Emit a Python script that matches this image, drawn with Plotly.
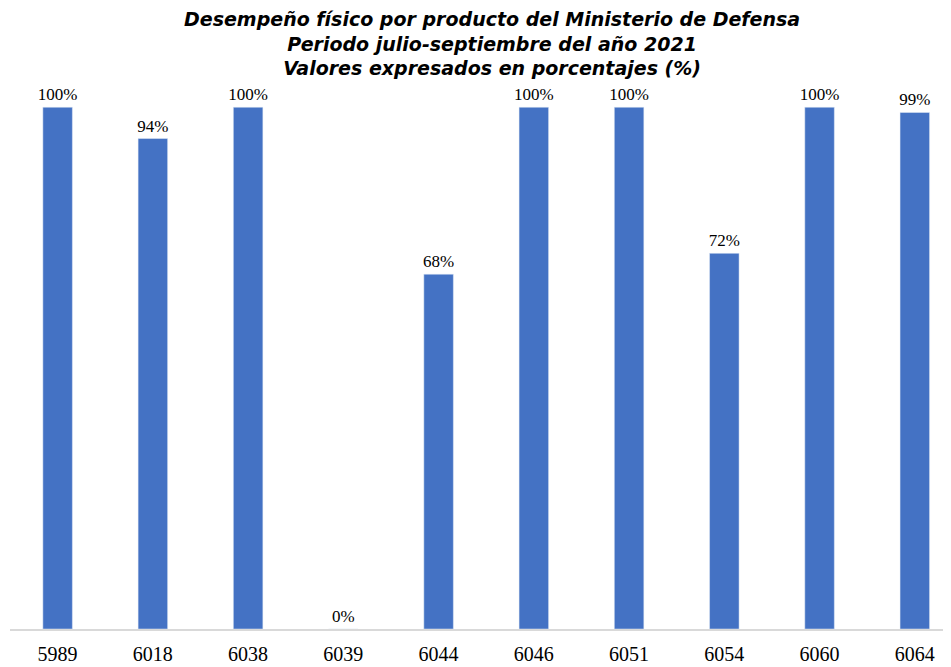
import plotly.graph_objects as go

categories = ["5989", "6018", "6038", "6039", "6044", "6046", "6051", "6054", "6060", "6064"]
values = [100, 94, 100, 0, 68, 100, 100, 72, 100, 99]
labels = [f"{v}%" for v in values]
title_lines = [
    "Desempeño físico por producto del Ministerio de Defensa",
    "Periodo julio-septiembre del año 2021",
    "Valores expresados en porcentajes (%)",
]

# page body has an 8px default margin, so the figure is sized 8px smaller
W, H = 943, 659
L, R, T, B = 2, 0, 82, 38

fig = go.Figure()
fig.add_trace(go.Bar(
    x=categories, y=values, text=labels, textposition="outside",
    constraintext="none",
    textfont=dict(family="Liberation Serif", size=17, color="#000000"),
    marker=dict(color="#4472C4"), width=0.31, cliponaxis=False,
))

plot_h = H - T - B
fig.add_annotation(
    text="<br>".join(title_lines),
    xref="paper", yref="paper", x=0.512, y=(H - B + 2) / plot_h,
    xanchor="center", yanchor="top", showarrow=False, align="center",
    font=dict(family="DejaVu Sans", size=19, color="#000000", weight="bold", style="italic"),
)

fig.update_layout(
    width=W, height=H,
    paper_bgcolor="white", plot_bgcolor="white",
    margin=dict(l=L, r=R, t=T, b=B),
    showlegend=False,
    xaxis=dict(
        type="category", range=[-0.5, 9.38], showline=True, linecolor="#D9D9D9", linewidth=2,
        ticks="", tickfont=dict(family="Liberation Serif", size=20, color="#000000"),
        ticklabelstandoff=6, automargin=False, showgrid=False,
    ),
    yaxis=dict(range=[0, 103.3], visible=False, showgrid=False, automargin=False),
)

fig.write_html("out.html")
